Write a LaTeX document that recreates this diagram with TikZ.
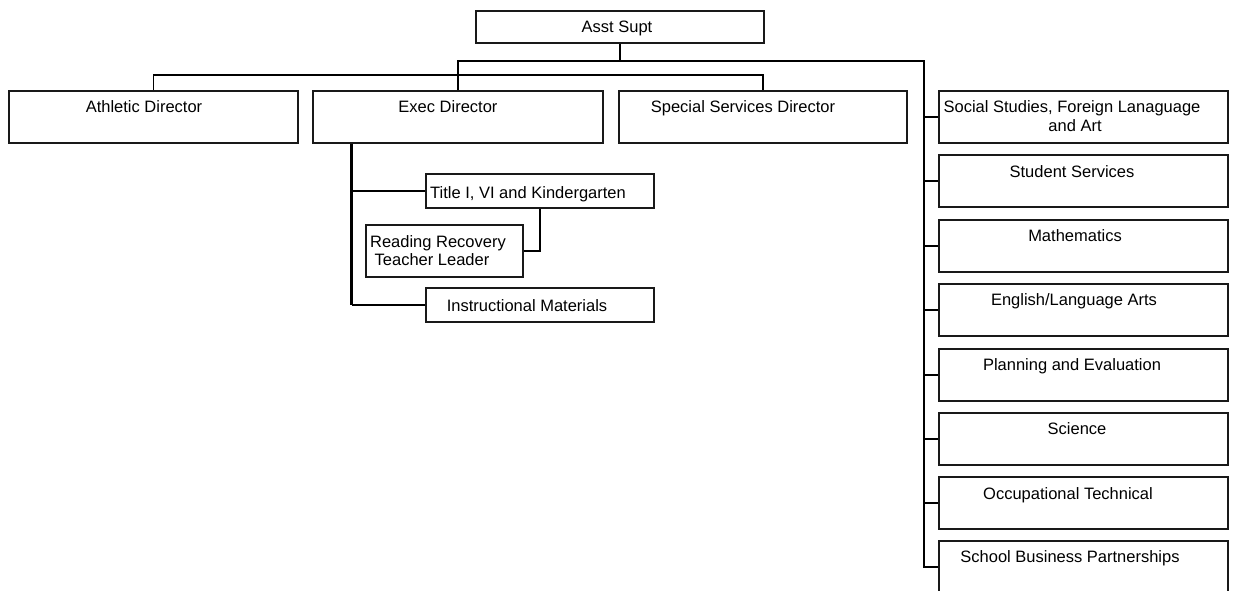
\documentclass[tikz,border=0pt]{standalone}
\usepackage{fontspec}
\setmainfont{Liberation Sans}
\begin{document}
\begin{tikzpicture}[x=1pt,y=-1pt,
  orgbox/.style={draw=black!90, line width=1.6pt, inner sep=0pt, minimum height=52pt, minimum width=289pt},
  smallbox/.style={orgbox, minimum height=34pt, minimum width=228pt},
  lbl/.style={anchor=base, inner sep=0pt, font=\fontsize{16.5}{19}\selectfont},
  wire/.style={draw=black, line width=1.3pt},
  heavy/.style={draw=black, line width=2.8pt},
  medium/.style={draw=black, line width=2pt}]
\useasboundingbox (0,0) rectangle (1233,590);
\clip (0,0) rectangle (1233,590);

% top of the chart
\node[orgbox, minimum height=32pt, minimum width=288pt] (asst) at (620,27) {};
\node[lbl] (asstT) at (617,32) {Asst Supt};

% directors row
\node[orgbox] (ath)  at (153.5,117) {};
\node[orgbox, minimum width=290pt] (exec) at (458,117) {};
\node[orgbox, minimum width=288pt] (spec) at (763,117) {};
\node[lbl] (athT)  at (144,112) {Athletic Director};
\node[lbl] (execT) at (448,112) {Exec Director};
\node[lbl] (specT) at (743,112) {Special Services Director};

% departments column
\node[orgbox] (soc)  at (1083.5,117) {};
\node[orgbox] (stu)  at (1083.5,181) {};
\node[orgbox] (math) at (1083.5,246) {};
\node[orgbox] (eng)  at (1083.5,310) {};
\node[orgbox] (plan) at (1083.5,375) {};
\node[orgbox] (sci)  at (1083.5,439) {};
\node[orgbox] (occ)  at (1083.5,503) {};
\node[orgbox] (sbp)  at (1083.5,567) {};
\node[lbl] (socT)  at (1072,112) {Social Studies, Foreign Lanaguage};
\node[lbl] (socT2) at (1075,131) {and Art};
\node[lbl] (stuT)  at (1072,177) {Student Services};
\node[lbl] (mathT) at (1075,241) {Mathematics};
\node[lbl] (engT)  at (1074,305) {English/Language Arts};
\node[lbl] (planT) at (1072,370) {Planning and Evaluation};
\node[lbl] (sciT)  at (1077,434) {Science};
\node[lbl] (occT)  at (1068,499) {Occupational Technical};
\node[lbl] (sbpT)  at (1070,562) {School Business Partnerships};

% programs under the executive director
\node[smallbox] (title) at (540,191) {};
\node[orgbox, minimum width=157pt] (read) at (444.5,251) {};
\node[smallbox] (instr) at (540,305) {};
\node[lbl] (titleT) at (528,198) {Title I, VI and Kindergarten};
\node[lbl] (readT)  at (438,247) {Reading Recovery};
\node[lbl] (readT2) at (432,265) {Teacher Leader};
\node[lbl] (instrT) at (527,311) {Instructional Materials};

% connector junctions
\coordinate (j1) at (620,61);
\coordinate (bus) at (0,75);
\coordinate (rv) at (924,61);
\coordinate (ev) at (351.5,0);

% upper buses
\draw[wire] (asst.south) -- (j1);
\draw[wire] (exec.north) |- (j1) -- (rv) |- (sbp.west);
\draw[wire] (ath.north) -- (ath.north |- bus) -- (spec.north |- bus) -- (spec.north);

% departments column ties
\draw[heavy] (rv |- soc.west) -- (soc.west);
\draw[heavy] (rv |- stu.west) -- (stu.west);
\foreach \b in {math,eng,plan,sci,occ}
  \draw[wire] (rv |- \b.west) -- (\b.west);
\draw[heavy] (rv |- sbp.west) -- (sbp.west);

% executive director subtree
\draw[heavy] (exec.south -| ev) -- (ev |- instr.west);
\draw[heavy] (ev |- title.west) -- (title.west);
\draw[wire] (ev |- instr.west) -- (instr.west);
\draw[medium] (title.south) |- (read.east);
\end{tikzpicture}
\end{document}
